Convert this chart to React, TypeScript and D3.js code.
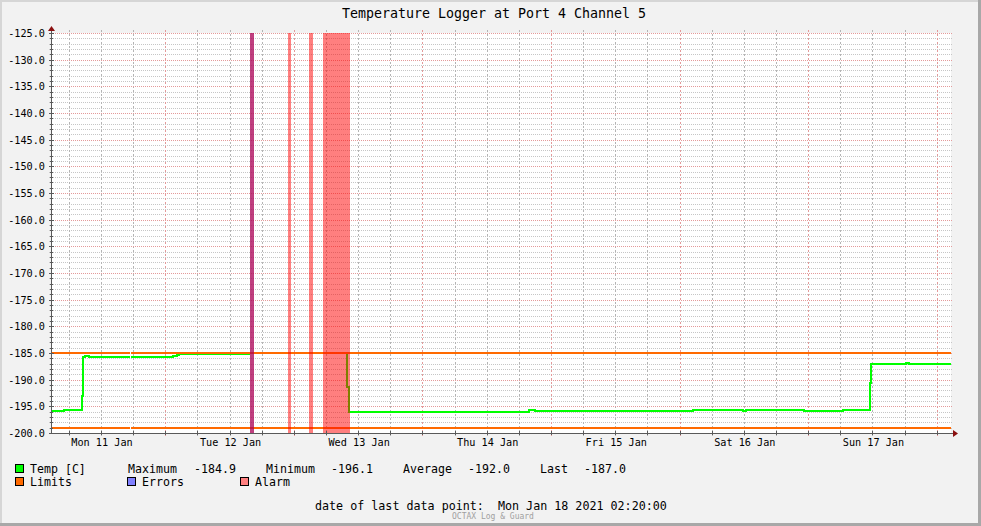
import React from "react";
import * as d3 from "d3";

// ---------- data ----------
const domainStart = "2021-01-11T02:40";
const domainEnd = "2021-01-18T02:40";

const tempTimes = [
  "2021-01-11T02:40", "2021-01-11T05:05", "2021-01-11T08:27", "2021-01-11T08:38",
  "2021-01-11T08:58", "2021-01-11T09:50", "2021-01-11T17:25", "2021-01-11T17:36",
  "2021-01-12T01:26", "2021-01-12T01:49", "2021-01-12T02:12", "2021-01-12T02:34",
  "2021-01-12T15:38", "2021-01-13T09:55", "2021-01-13T10:18", "2021-01-14T19:54",
  "2021-01-14T21:01", "2021-01-16T02:30", "2021-01-16T11:50", "2021-01-16T12:24",
  "2021-01-16T23:14", "2021-01-17T06:30", "2021-01-17T11:33", "2021-01-17T11:44",
  "2021-01-17T18:16", "2021-01-17T18:50", "2021-01-18T02:40",
];
const tempValues = [
  -195.9, -195.7, -193.0, -185.8,
  -185.6, -185.8, NaN, -185.8,
  -185.6, -185.5, -185.3, -185.2,
  -185.0, -191.3, -196.0, -195.7,
  -195.8, -195.7, -195.8, -195.7,
  -195.9, -195.7, -190.6, -187.1,
  -186.9, -187.0, -187.0,
];

const limitTimes = ["2021-01-11T02:40", "2021-01-11T17:25", "2021-01-11T17:36", "2021-01-18T02:40"];
const upperLimitValues = [-185, NaN, -185, -185];
const lowerLimitValues = [-199, NaN, -199, -199];

const errorStarts = ["2021-01-12T15:49"];
const errorEnds = ["2021-01-12T16:33"];

const alarmStarts = ["2021-01-12T15:49", "2021-01-12T22:54", "2021-01-13T02:50", "2021-01-13T05:26"];
const alarmEnds = ["2021-01-12T16:33", "2021-01-12T23:28", "2021-01-13T03:35", "2021-01-13T10:29"];

const yMin = -200;
const yMax = -125;

const titleText = "Temperature Logger at Port 4 Channel 5";
const statLabels = ["Maximum", "Minimum", "Average", "Last"];
const statValues = ["-184.9", "-196.1", "-192.0", "-187.0"];
const legendNames = ["Temp [C]", "Limits", "Errors", "Alarm"];
const lastDataText = "date of last data point:  Mon Jan 18 2021 02:20:00";
const footerText = "OCTAX Log & Guard";

// ---------- styling / layout ----------
const W = 981;
const H = 526;
const PX0 = 51;
const PX1 = 951;
const PY0 = 33;
const PY1 = 433;
const FONT = "DejaVu Sans Mono, monospace";
const C_TEMP = "#00ff00";
const C_LIMIT = "#ff6a00";
const C_ERR = "rgba(0,0,255,0.5)";
const C_ALARM = "rgba(255,0,0,0.5)";
const C_GRID = "#c6c6c6";
const C_VGRID = "#b4b4b4";
const C_MGRID = "#e49a9a";

const parse = d3.utcParse("%Y-%m-%dT%H:%M");

type Pt = { t: Date; v: number };

function toPoints(times: string[], values: number[]): Pt[] {
  const pts: Pt[] = [];
  times.forEach((s, i) => {
    const t = parse(s) as Date;
    if (isNaN(values[i]) && i > 0) pts.push({ t, v: values[i - 1] });
    pts.push({ t, v: values[i] });
  });
  return pts;
}

export default function App() {
  const x = d3.scaleUtc().domain([parse(domainStart) as Date, parse(domainEnd) as Date]).range([PX0, PX1]);
  const y = d3.scaleLinear().domain([yMin, yMax]).range([PY1, PY0]);
  const [d0, d1] = x.domain();

  const line = d3
    .line<Pt>()
    .defined((d) => !isNaN(d.v))
    .x((d) => Math.round(x(d.t)))
    .y((d) => Math.round(y(d.v)))
    .curve(d3.curveStepAfter);

  const minorX = d3.utcHour.every(6)!.range(d0, d1).filter((d) => d.getUTCHours() !== 0);
  const majorX = d3.utcDay.range(d0, d1);
  const labelX = d3.utcDay
    .range(d3.utcDay.floor(d0), d1)
    .map((d) => d3.utcHour.offset(d, 12))
    .filter((d) => d >= d0 && d <= d1);
  const fmtDay = d3.utcFormat("%a %d %b");

  const minorY = d3.range(yMin, yMax + 1, 1).filter((v) => v % 5 !== 0);
  const majorY = d3.range(yMin, yMax + 1, 5);

  const cx = (v: number) => Math.round(v) + 0.5;

  const tempPts = toPoints(tempTimes, tempValues);
  const upPts = toPoints(limitTimes, upperLimitValues);
  const loPts = toPoints(limitTimes, lowerLimitValues);

  const statLabelX = [128, 266, 403, 540];
  const statValueX = [194, 331, 468, 584];

  return (
    <svg
      width={W}
      height={H}
      style={{ position: "absolute", left: 0, top: 0, fontFamily: FONT }}
    >
      {/* frame */}
      <rect x={0} y={0} width={W} height={H} fill="#f2f2f2" />
      <rect x={0} y={0} width={W} height={2} fill="#d6d6d6" />
      <rect x={0} y={0} width={2} height={H} fill="#d6d6d6" />
      <rect x={W - 3} y={0} width={3} height={H} fill="#a8a8a8" />
      <rect x={0} y={H - 3} width={W} height={3} fill="#a8a8a8" />

      {/* plot area */}
      <rect x={PX0} y={PY0} width={PX1 - PX0} height={PY1 - PY0} fill="#ffffff" />

      {/* grid */}
      <g shapeRendering="crispEdges" strokeWidth={1}>
        {minorY.map((v) => (
          <line key={"my" + v} x1={PX0 - 2} x2={PX1 + 2} y1={cx(y(v))} y2={cx(y(v))} stroke={C_GRID} strokeDasharray="1,1" />
        ))}
        {minorX.map((d) => (
          <line key={"mx" + +d} x1={cx(x(d))} x2={cx(x(d))} y1={PY0 - 3} y2={PY1 + 3} stroke={C_VGRID} strokeDasharray="2,2" />
        ))}
        {majorY.map((v) => (
          <line key={"My" + v} x1={PX0 - 2} x2={PX1 + 2} y1={cx(y(v))} y2={cx(y(v))} stroke={C_MGRID} strokeDasharray="1,1" />
        ))}
        {majorX.map((d) => (
          <line key={"Mx" + +d} x1={cx(x(d))} x2={cx(x(d))} y1={PY0 - 3} y2={PY1 + 3} stroke={C_MGRID} strokeDasharray="2,2" />
        ))}
      </g>

      {/* series */}
      <path d={line(tempPts) || ""} fill="none" stroke={C_TEMP} strokeWidth={2} shapeRendering="crispEdges" />
      <path d={line(upPts) || ""} fill="none" stroke={C_LIMIT} strokeWidth={2} shapeRendering="crispEdges" />
      <path d={line(loPts) || ""} fill="none" stroke={C_LIMIT} strokeWidth={2} shapeRendering="crispEdges" />

      {/* errors & alarms */}
      <g shapeRendering="crispEdges">
        {errorStarts.map((s, i) => {
          const a = Math.round(x(parse(s) as Date));
          const b = Math.round(x(parse(errorEnds[i]) as Date));
          return <rect key={"e" + i} x={a} y={PY0} width={Math.max(1, b - a)} height={PY1 - PY0} fill={C_ERR} />;
        })}
        {alarmStarts.map((s, i) => {
          const a = Math.round(x(parse(s) as Date));
          const b = Math.round(x(parse(alarmEnds[i]) as Date));
          return <rect key={"a" + i} x={a} y={PY0} width={Math.max(1, b - a)} height={PY1 - PY0} fill={C_ALARM} />;
        })}
      </g>

      {/* axes */}
      <g shapeRendering="crispEdges" stroke="#5a5a5a">
        <line x1={PX0 + 0.5} x2={PX0 + 0.5} y1={PY0 - 4} y2={PY1 + 1} />
        <line x1={PX0} x2={PX1 + 4} y1={PY1 + 0.5} y2={PY1 + 0.5} />
        {majorY.map((v) => (
          <line key={"ty" + v} x1={PX0 - 2} x2={PX0 + 3} y1={cx(y(v))} y2={cx(y(v))} />
        ))}
        {minorY.map((v) => (
          <line key={"tmy" + v} x1={PX0 - 1} x2={PX0 + 2} y1={cx(y(v))} y2={cx(y(v))} />
        ))}
        {majorX.concat(minorX).map((d) => (
          <line key={"tx" + +d} x1={cx(x(d))} x2={cx(x(d))} y1={PY1 - 2} y2={PY1 + 2} />
        ))}
      </g>
      <path d={`M${PX0 - 3},${PY0 - 2} L${PX0 + 4},${PY0 - 2} L${PX0 + 0.5},${PY0 - 7} Z`} fill="#8b1010" />
      <path d={`M${PX1 + 2},${PY1 - 3} L${PX1 + 2},${PY1 + 4} L${PX1 + 7},${PY1 + 0.5} Z`} fill="#8b1010" />

      {/* tick labels */}
      <g fontSize={10.2} fill="#000">
        {majorY.map((v) => (
          <text key={"ly" + v} x={45} y={Math.round(y(v)) + 4} textAnchor="end">
            {v.toFixed(1)}
          </text>
        ))}
        {labelX.map((d) => (
          <text key={"lx" + +d} x={x(d) + 1} y={446} textAnchor="middle">
            {fmtDay(d)}
          </text>
        ))}
      </g>

      {/* title */}
      <text x={494} y={18} fontSize={13.3} textAnchor="middle" fill="#000">
        {titleText}
      </text>

      {/* legend */}
      <g fontSize={11.6} fill="#000" style={{ whiteSpace: "pre" }}>
        <rect x={15.5} y={464.5} width={8} height={8} fill={C_TEMP} stroke="#000" />
        <text x={30} y={473}>{legendNames[0]}</text>
        {statLabels.map((s, i) => (
          <text key={"sl" + i} x={statLabelX[i]} y={473}>{s}</text>
        ))}
        {statValues.map((s, i) => (
          <text key={"sv" + i} x={statValueX[i]} y={473}>{s}</text>
        ))}
        <rect x={15.5} y={477.5} width={8} height={8} fill={C_LIMIT} stroke="#000" />
        <text x={30} y={486}>{legendNames[1]}</text>
        <rect x={127.5} y={477.5} width={8} height={8} fill="#8080ff" stroke="#000" />
        <text x={142} y={486}>{legendNames[2]}</text>
        <rect x={240.5} y={477.5} width={8} height={8} fill="#ff8080" stroke="#000" />
        <text x={255} y={486}>{legendNames[3]}</text>
        <text x={315} y={510} fontSize={11.7} xmlSpace="preserve">{lastDataText}</text>
      </g>
      <text x={493} y={519} fontSize={8} textAnchor="middle" fill="#a0a0a0">
        {footerText}
      </text>
    </svg>
  );
}
